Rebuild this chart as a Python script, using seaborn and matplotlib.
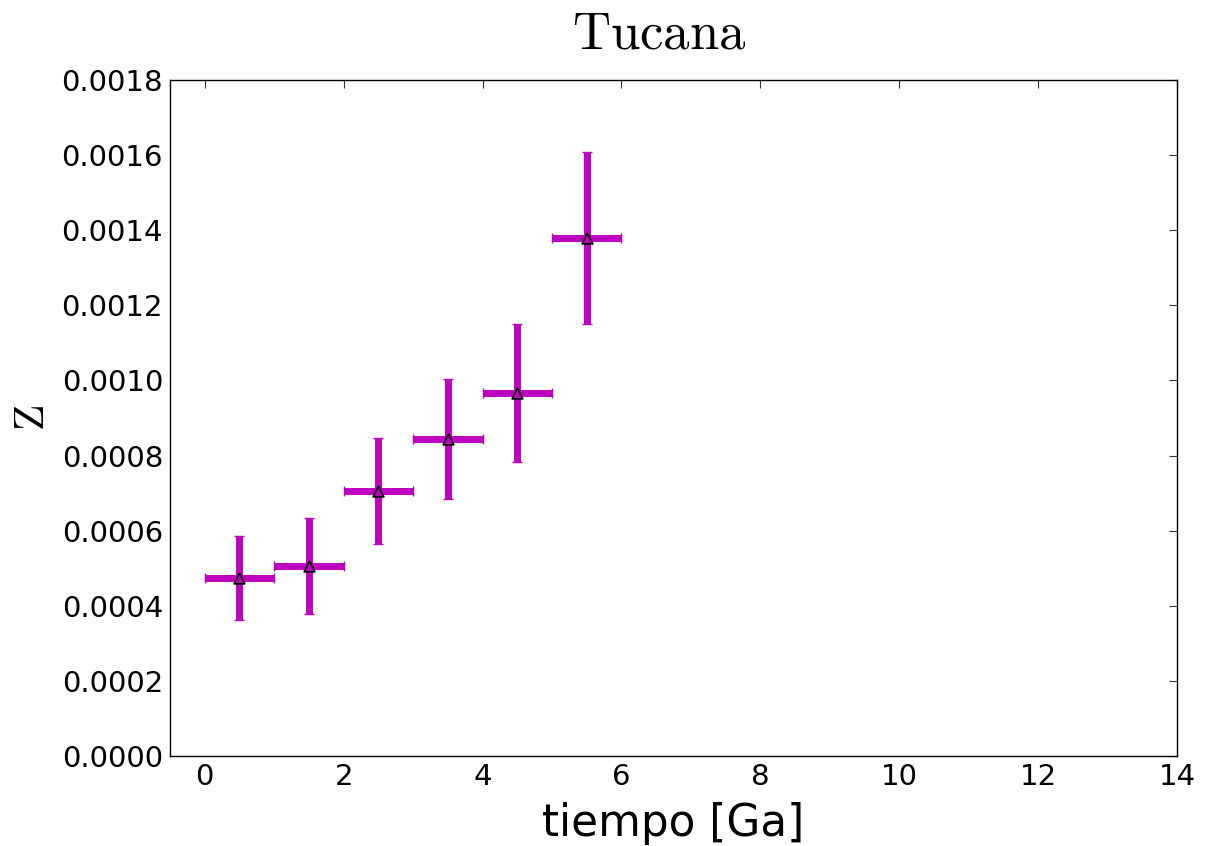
import matplotlib
matplotlib.use("Agg")
import matplotlib.pyplot as plt
import seaborn as sns
import pandas as pd

tiempo = [0.5, 1.5, 2.5, 3.5, 4.5, 5.5]
tiempo_err = [0.5, 0.5, 0.5, 0.5, 0.5, 0.5]
z_vals = [0.000474, 0.000506, 0.000706, 0.000844, 0.000966, 0.001379]
z_err = [0.000112, 0.000127, 0.000141, 0.000159, 0.000184, 0.000229]
x_ticks = [0, 2, 4, 6, 8, 10, 12, 14]
y_ticks = [0.0000, 0.0002, 0.0004, 0.0006, 0.0008, 0.0010, 0.0012, 0.0014, 0.0016, 0.0018]

sns.set_style("white")
plt.rcParams["font.family"] = ["DejaVu Sans"]
plt.rcParams["mathtext.fontset"] = "cm"
plt.rcParams["text.color"] = "black"
plt.rcParams["axes.labelcolor"] = "black"
plt.rcParams["xtick.color"] = "black"
plt.rcParams["ytick.color"] = "black"

df = pd.DataFrame({"tiempo": tiempo, "Z": z_vals})

fig = plt.figure(figsize=(12.16, 8.46), dpi=100)
ax = fig.add_axes([0.1398, 0.1064, 0.8282, 0.799])

ax.errorbar(tiempo, z_vals, xerr=tiempo_err, yerr=z_err, fmt="none",
            ecolor="#c000c0", elinewidth=5, capsize=3.5, capthick=1.0, zorder=2)
sns.scatterplot(data=df, x="tiempo", y="Z", marker="^", s=60, color="#c000c0",
                edgecolor="black", linewidth=1.2, ax=ax, zorder=3, legend=False)

ax.set_xlim(-0.5, 14)
ax.set_ylim(0, 0.0018)
ax.set_xticks(x_ticks)
ax.set_xticklabels([str(t) for t in x_ticks])
ax.set_yticks(y_ticks)
ax.set_yticklabels([f"{t:.4f}" for t in y_ticks])
ax.tick_params(direction="in", top=True, right=True, length=6, width=0.8,
               labelsize=21, pad=5, labelcolor="black", color="#333333")
for s in ax.spines.values():
    s.set_visible(True)
    s.set_color("black")
    s.set_linewidth(1.0)

ax.set_xlabel("tiempo [Ga]", fontsize=31.5, labelpad=8, color="black")
ax.set_ylabel(r"$\mathrm{Z}$", fontsize=31, labelpad=6, color="black")
ax.set_title(r"$\mathrm{Tucana}$", fontsize=38, pad=23, x=0.486, color="black")

fig.savefig("out.png", dpi=100)
